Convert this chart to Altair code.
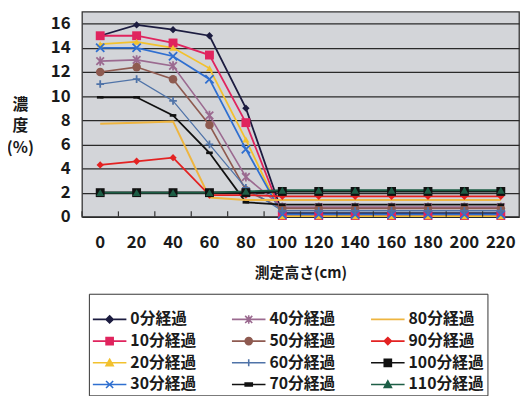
import altair as alt
import pandas as pd

heights = [0, 20, 40, 60, 80, 100, 120, 140, 160, 180, 200, 220]
series = ["0分経過", "10分経過", "20分経過", "30分経過", "40分経過", "50分経過",
          "60分経過", "70分経過", "80分経過", "90分経過", "100分経過", "110分経過"]

v0 = [15.0, 15.9, 15.5, 15.0, 9.0, 0.3, 0.3, 0.3, 0.3, 0.3, 0.3, 0.3]
v10 = [15.0, 15.0, 14.4, 13.4, 7.8, 0.1, 0.1, 0.1, 0.1, 0.1, 0.1, 0.1]
v20 = [14.3, 14.5, 14.0, 12.3, 6.4, 0.05, 0.05, 0.05, 0.05, 0.05, 0.05, 0.05]
v30 = [14.0, 14.0, 13.3, 11.4, 5.6, 0.2, 0.2, 0.2, 0.2, 0.2, 0.2, 0.2]
v40 = [12.9, 13.0, 12.5, 8.4, 3.3, 0.8, 0.8, 0.8, 0.8, 0.8, 0.8, 0.8]
v50 = [12.0, 12.4, 11.4, 7.6, 2.2, 0.7, 0.7, 0.7, 0.7, 0.7, 0.7, 0.7]
v60 = [11.0, 11.4, 9.6, 6.0, 2.4, 0.5, 0.5, 0.5, 0.5, 0.5, 0.5, 0.5]
v70 = [9.9, 9.9, 8.4, 5.3, 1.2, 1.0, 1.0, 1.0, 1.0, 1.0, 1.0, 1.0]
v80 = [7.7, 7.8, 7.9, 1.6, 1.4, 1.4, 1.4, 1.4, 1.4, 1.4, 1.4, 1.4]
v90 = [4.3, 4.6, 4.9, 1.8, 1.8, 1.7, 1.7, 1.7, 1.7, 1.7, 1.7, 1.7]
v100 = [2.0, 2.0, 2.0, 2.0, 2.0, 2.1, 2.1, 2.1, 2.1, 2.1, 2.1, 2.1]
v110 = [2.0, 2.0, 2.0, 2.0, 2.1, 2.2, 2.2, 2.2, 2.2, 2.2, 2.2, 2.2]
values = [v0, v10, v20, v30, v40, v50, v60, v70, v80, v90, v100, v110]

colors = ["#1c1c40", "#e0245e", "#f2c12e", "#2f6fd0", "#9b6a90", "#8e5a50",
          "#4f73a8", "#111111", "#eeb540", "#e32222", "#111111", "#1d5e46"]

DIAMOND = "M0,-1L1,0L0,1L-1,0Z"
XMARK = "M-1,-1L1,1M-1,1L1,-1"
AST = "M-1,-1L1,1M-1,1L1,-1M0,-1.2L0,1.2"
PLUS = "M-1,0L1,0M0,-1L0,1"
DASH = "M-1,-0.4L1,-0.4L1,0.4L-1,0.4Z"
markers = [
    (DIAMOND, True, 55), ("square", True, 81), ("triangle-up", True, 50),
    (XMARK, False, 70), (AST, False, 60), ("circle", True, 75),
    (PLUS, False, 60), (DASH, True, 45), (None, True, 0),
    (DIAMOND, True, 55), ("square", True, 81), ("triangle-up", True, 64),
]
line_widths = [1.8, 1.8, 1.8, 1.8, 1.6, 1.6, 1.3, 1.8, 2.0, 1.8, 2.2, 1.8]


def leg_marker(kind):
    cx = 0.7
    r = 0.36
    if kind == "diamond":
        return f"M{cx},{-r}L{cx+r},0L{cx},{r}L{cx-r},0Z"
    if kind == "square":
        return f"M{cx-r},{-r}L{cx+r},{-r}L{cx+r},{r}L{cx-r},{r}Z"
    if kind == "tri":
        return f"M{cx},{-r}L{cx+r},{r*0.8}L{cx-r},{r*0.8}Z"
    if kind == "x":
        return f"M{cx-r},{-r}L{cx+r},{r}M{cx-r},{r}L{cx+r},{-r}"
    if kind == "ast":
        return f"M{cx-r},{-r}L{cx+r},{r}M{cx-r},{r}L{cx+r},{-r}M{cx},{-r*1.2}L{cx},{r*1.2}"
    if kind == "circle":
        return f"M{cx-r},0A{r},{r},0,1,0,{cx+r},0A{r},{r},0,1,0,{cx-r},0Z"
    if kind == "plus":
        return f"M{cx-r},0L{cx+r},0M{cx},{-r}L{cx},{r}"
    if kind == "dash":
        return f"M{cx-r},-0.15L{cx+r},-0.15L{cx+r},0.15L{cx-r},0.15Z"
    return ""


leg_kinds = ["diamond", "square", "tri", "x", "ast", "circle", "plus", "dash",
             None, "diamond", "square", "tri"]
leg_paths = ["M-1,0L2.4,0" + (leg_marker(k) if k else "") for k in leg_kinds]

rows = []
for s, vals in zip(series, values):
    for h, v in zip(heights, vals):
        rows.append({"series": s, "h": h, "v": v})
df = pd.DataFrame(rows)

FONT = "Noto Sans CJK JP"

x_scale = alt.Scale(type="band", domain=heights, paddingInner=0, paddingOuter=0)
y_scale = alt.Scale(domain=[0, 17], nice=False)
x_axis = alt.Axis(
    title="測定高さ(cm)", labelAngle=0, labelFontSize=17, labelFontWeight="bold",
    labelFont=FONT, labelColor="#1a1a1a", labelPadding=18, ticks=False,
    domain=False, grid=False, titleFont=FONT, titleFontSize=15,
    titleFontWeight="bold", titleColor="#1a1a1a", titlePadding=16,
    labelOverlap=False,
)
y_axis = alt.Axis(
    values=[0, 2, 4, 6, 8, 10, 12, 14, 16], grid=True, gridColor="#2a2a2a",
    gridWidth=1.3, domain=False, ticks=False, labelFontSize=17,
    labelFontWeight="bold", labelFont=FONT, labelColor="#1a1a1a",
    labelPadding=12, labelOverlap=False,
    title=["濃", "度", "(%)"], titleAngle=0, titleFont=FONT, titleFontSize=16,
    titleFontWeight="bold", titleColor="#1a1a1a", titleAlign="center",
    titleBaseline="top", titleX=-63, titleY=86, titleLineHeight=22,
)
X = alt.X("h:O", scale=x_scale, axis=x_axis)
Y = alt.Y("v:Q", scale=y_scale, axis=y_axis)

base = alt.Chart(df)
layers = []

for i, s in enumerate(series):
    sub = base.transform_filter(alt.datum.series == s)
    layers.append(
        sub.mark_line(color=colors[i], strokeWidth=line_widths[i]).encode(x=X, y=Y)
    )
for i, s in enumerate(series):
    shape, filled, size = markers[i]
    if shape is None:
        continue
    sub = base.transform_filter(alt.datum.series == s)
    if filled:
        m = sub.mark_point(shape=shape, filled=True, color=colors[i], size=size, opacity=1)
    else:
        m = sub.mark_point(shape=shape, filled=False, color=colors[i], size=size,
                           strokeWidth=1.8, opacity=1)
    layers.append(m.encode(x=X, y=Y))

# small tick marks at category boundaries along the bottom
tick_df = pd.DataFrame({"h": heights, "y0": [0] * len(heights), "y1": [0.45] * len(heights)})
ticks = alt.Chart(tick_df).mark_rule(color="#333", strokeWidth=1.2).encode(
    x=alt.X("h:O", bandPosition=0, scale=x_scale, axis=x_axis),
    y=alt.Y("y0:Q", scale=y_scale, axis=y_axis),
    y2="y1:Q",
)
layers.append(ticks)

legend = alt.Legend(
    title=" ", titleFontSize=12, titlePadding=0, orient="none", legendX=7, legendY=286,
    columns=3, symbolSize=400, symbolStrokeWidth=1.6, labelFont=FONT,
    labelFontSize=16, labelFontWeight="bold", labelColor="#1a1a1a", labelOffset=17,
    columnPadding=32, rowPadding=3, padding=3, strokeColor="#333",
    labelLimit=200,
)
leg_layer = base.transform_filter(alt.datum.v < -100).mark_point(
    filled=True, opacity=1
).encode(
    x=X, y=Y,
    shape=alt.Shape("series:N", scale=alt.Scale(domain=series, range=leg_paths), legend=legend),
    fill=alt.Fill("series:N", scale=alt.Scale(domain=series, range=colors), legend=legend),
    stroke=alt.Stroke("series:N", scale=alt.Scale(domain=series, range=colors), legend=legend),
)
layers.append(leg_layer)

chart = alt.layer(*layers).properties(
    width=443, height=208,
    autosize=alt.AutoSizeParams(type="none"),
    padding={"left": 75, "top": 1, "right": 2, "bottom": 179},
    background="white",
).configure_view(
    fill="#d3d5d9", stroke="#333333", strokeWidth=1.3,
)

chart.save("out.html", embed_options={"renderer": "svg", "actions": False})
